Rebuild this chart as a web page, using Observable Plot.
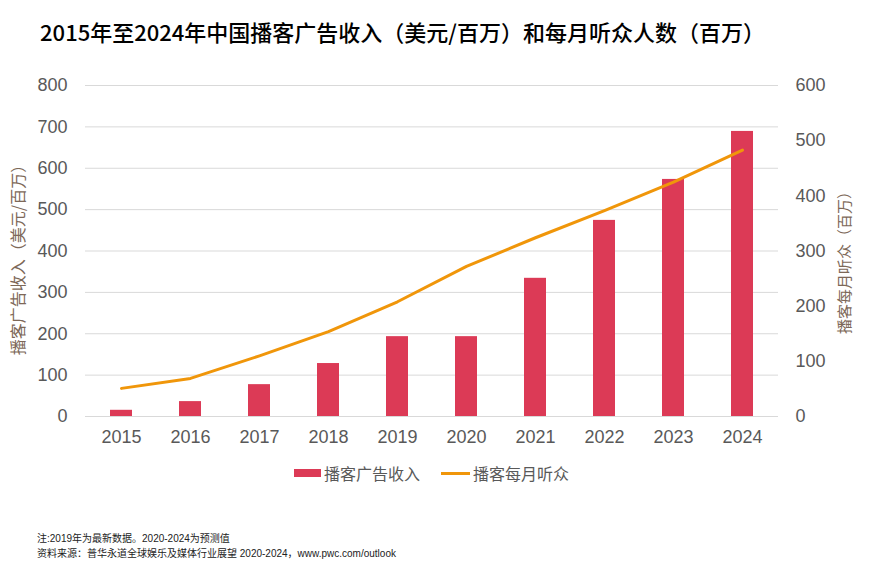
<!DOCTYPE html>
<html>
<head>
<meta charset="utf-8">
<script src="https://cdn.jsdelivr.net/npm/d3@7"></script>
<script src="https://cdn.jsdelivr.net/npm/@observablehq/plot@0.6"></script>
<style>
  body { margin: 0; background: #fff; width: 872px; height: 568px; position: relative; overflow: hidden; font-family: "Liberation Sans", Arial, "Noto Sans CJK SC", sans-serif; }
  #title { position: absolute; left: 0; width: 805px; top: 15px; text-align: center; font-family: "Noto Sans CJK SC", sans-serif; font-weight: 500; font-size: 22px; color: #000; white-space: nowrap; }
  #chart { position: absolute; left: 0; top: 60px; }
  #legend { position: absolute; top: 461px; left: 294px; font-family: "Noto Sans CJK SC", sans-serif; font-size: 16px; color: #595959; display: flex; align-items: center; white-space: nowrap; }
  .sw-bar { display: inline-block; width: 27px; height: 8px; background: #dc3a56; margin-right: 3px; }
  .sw-line { display: inline-block; width: 29px; height: 3px; background: #f0960a; margin-left: 21px; margin-right: 3px; }
  .note { position: absolute; left: 37px; font-family: "Liberation Sans", Arial, "Noto Sans CJK SC", sans-serif; font-size: 10px; color: #222; white-space: nowrap; }
</style>
</head>
<body>
<div id="title">2015年至2024年中国播客广告收入（美元/百万）和每月听众人数（百万）</div>
<div id="chart"></div>
<div id="legend"><span class="sw-bar"></span><span>播客广告收入</span><span class="sw-line"></span><span>播客每月听众</span></div>
<div class="note" style="top:530px">注:2019年为最新数据。2020-2024为预测值</div>
<div class="note" style="top:545px">资料来源：普华永道全球娱乐及媒体行业展望 2020-2024，www.pwc.com/outlook</div>
<script>
const years = ["2015","2016","2017","2018","2019","2020","2021","2022","2023","2024"];
const adRevenue = [15, 36, 77, 128, 193, 193, 334, 474, 573, 689];
const listeners = [51, 69, 110, 154, 208, 272, 324, 373, 425, 483];
const leftTicks = [0,100,200,300,400,500,600,700,800];
const rightTicks = [0,100,200,300,400,500,600];
const leftLabel = "播客广告收入（美元/百万）";
const rightLabel = "播客每月听众（百万）";

const ratio = 800 / 600;
const data = years.map((y, i) => ({year: y, ad: adRevenue[i], lis: listeners[i]}));

const chart = Plot.plot({
  width: 872,
  height: 400,
  marginLeft: 85,
  marginRight: 94,
  marginTop: 25,
  marginBottom: 44,
  style: {fontFamily: "'Liberation Sans', Arial, sans-serif", background: "transparent"},
  x: {domain: years, paddingInner: 0.68, paddingOuter: 0.34, label: null},
  y: {domain: [0, 800], label: null},
  marks: [
    Plot.ruleY(leftTicks, {stroke: "#d9d9d9", strokeWidth: 1}),
    Plot.barY(data, {x: "year", y: "ad", fill: "#dc3a56"}),
    Plot.line(data, {x: "year", y: d => d.lis * ratio, stroke: "#f0960a", strokeWidth: 3, curve: "linear"}),
    Plot.axisX({tickSize: 0, tickPadding: 14, fontSize: 18, color: "#595959", label: null}),
    Plot.axisY(leftTicks, {anchor: "left", tickSize: 0, tickPadding: 18, fontSize: 18, color: "#595959", label: null}),
    Plot.axisY(rightTicks.map(v => v * ratio), {anchor: "right", tickSize: 0, tickPadding: 17, fontSize: 18, color: "#595959", label: null, tickFormat: v => String(Math.round(v / ratio))}),
    Plot.text([leftLabel], {frameAnchor: "left", textAnchor: "middle", dx: -67, dy: 5, rotate: -90, fontSize: 16, fill: "#7d6858", fontFamily: "'Noto Sans CJK SC', sans-serif"}),
    Plot.text([rightLabel], {frameAnchor: "right", textAnchor: "middle", dx: 67, dy: 8, rotate: -90, fontSize: 15, fill: "#7d6858", fontFamily: "'Noto Sans CJK SC', sans-serif"})
  ]
});
document.getElementById("chart").appendChild(chart);
</script>
</body>
</html>
